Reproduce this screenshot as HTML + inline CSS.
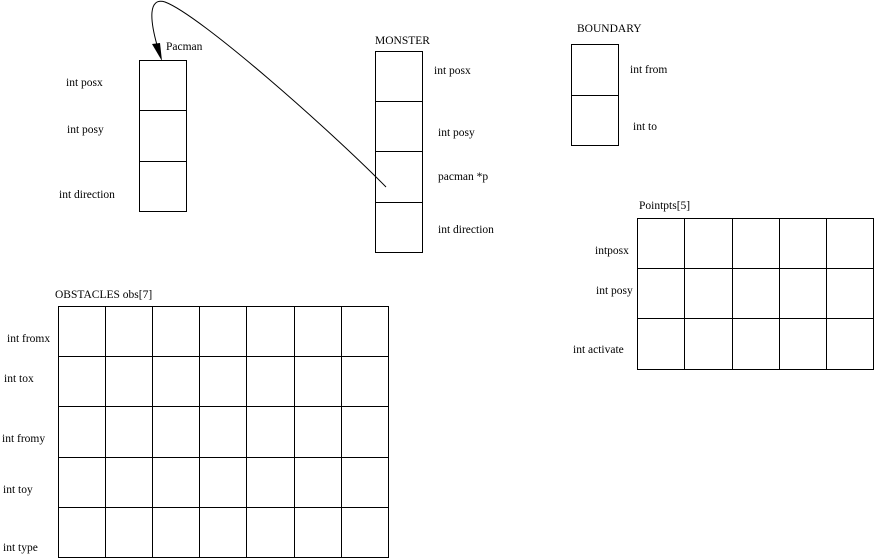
<!DOCTYPE html>
<html><head><style>
html,body{margin:0;padding:0;background:#fff;}
svg{display:block;}
text{font-family:"Liberation Serif",serif;font-size:11.5px;fill:#000;}
</style></head><body>
<svg width="874" height="559" viewBox="0 0 874 559" xmlns="http://www.w3.org/2000/svg">
<g fill="none" stroke="#000" stroke-width="1">
<!-- Pacman -->
<rect x="139.5" y="60.5" width="47" height="151"/>
<line x1="139.5" y1="110.5" x2="186.5" y2="110.5"/>
<line x1="139.5" y1="161.5" x2="186.5" y2="161.5"/>
<!-- Monster -->
<rect x="375.5" y="51.5" width="47" height="201"/>
<line x1="375.5" y1="101.5" x2="422.5" y2="101.5"/>
<line x1="375.5" y1="151.5" x2="422.5" y2="151.5"/>
<line x1="375.5" y1="202.5" x2="422.5" y2="202.5"/>
<!-- Boundary -->
<rect x="571.5" y="44.5" width="47" height="101"/>
<line x1="571.5" y1="95.5" x2="618.5" y2="95.5"/>
<!-- Pointpts -->
<rect x="637.5" y="218.5" width="236" height="151"/>
<line x1="684.5" y1="218.5" x2="684.5" y2="369.5"/>
<line x1="732.5" y1="218.5" x2="732.5" y2="369.5"/>
<line x1="779.5" y1="218.5" x2="779.5" y2="369.5"/>
<line x1="826.5" y1="218.5" x2="826.5" y2="369.5"/>
<line x1="637.5" y1="268.5" x2="873.5" y2="268.5"/>
<line x1="637.5" y1="318.5" x2="873.5" y2="318.5"/>
<!-- Obstacles -->
<rect x="58.5" y="306.5" width="330" height="251"/>
<line x1="105.5" y1="306.5" x2="105.5" y2="557.5"/>
<line x1="152.5" y1="306.5" x2="152.5" y2="557.5"/>
<line x1="199.5" y1="306.5" x2="199.5" y2="557.5"/>
<line x1="246.5" y1="306.5" x2="246.5" y2="557.5"/>
<line x1="294.5" y1="306.5" x2="294.5" y2="557.5"/>
<line x1="341.5" y1="306.5" x2="341.5" y2="557.5"/>
<line x1="58.5" y1="356.5" x2="388.5" y2="356.5"/>
<line x1="58.5" y1="406.5" x2="388.5" y2="406.5"/>
<line x1="58.5" y1="457.5" x2="388.5" y2="457.5"/>
<line x1="58.5" y1="507.5" x2="388.5" y2="507.5"/>
<!-- curve -->
<path d="M386,187 C 330,130 200,15 165,2 C 148,-3 150,20 157,45"/>
</g>
<polygon points="162,61 152,44 160,43" fill="#000"/>
<text x="166" y="50">Pacman</text>
<text x="66" y="86">int posx</text>
<text x="67" y="133">int posy</text>
<text x="59" y="198">int direction</text>
<text x="375" y="44">MONSTER</text>
<text x="434" y="74">int posx</text>
<text x="438" y="136">int posy</text>
<text x="438" y="180">pacman *p</text>
<text x="438" y="233">int direction</text>
<text x="577" y="32">BOUNDARY</text>
<text x="630" y="73">int from</text>
<text x="633" y="130">int to</text>
<text x="639" y="209">Pointpts[5]</text>
<text x="595" y="254">intposx</text>
<text x="596" y="294">int posy</text>
<text x="573" y="353">int activate</text>
<text x="55" y="298">OBSTACLES obs[7]</text>
<text x="7" y="342">int fromx</text>
<text x="4" y="382">int tox</text>
<text x="2" y="442">int fromy</text>
<text x="3" y="493">int toy</text>
<text x="3" y="551">int type</text>
</svg>
</body></html>
